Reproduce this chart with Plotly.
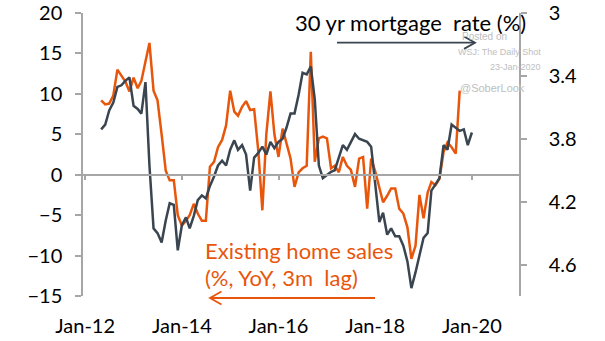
import plotly.graph_objects as go
import pandas as pd

# ---------------- data ----------------
home_sales_start = "2012-05-01"   # monthly, existing home sales (%, YoY, 3m lag)
home_sales = [
    9.2, 8.7, 8.8, 9.8, 13.0, 12.3, 11.5, 10.3, 12.0, 10.7, 11.6, 14.0, 16.3, 10.4, 9.2, 5.0,
    0.5, -0.7, -0.7, -5.0, -6.3, -5.7, -5.0, -3.6, -4.8, -5.7, -5.7, 1.0, 1.6, 3.4, 4.3, 6.1,
    10.4, 7.8, 7.3, 8.4, 9.1, 8.0, 8.1, 3.0, -4.4, 5.0, 10.3, 5.0, 2.2, 5.7, 3.9, 2.0,
    -1.5, 0.3, 0.8, 1.1, 15.2, 1.6, 4.5, 4.7, 4.5, 0.8, 1.1, 0.3, 2.2, 1.1, 0.6, -1.5,
    2.0, 2.2, -4.2, 2.0, 0.4, -1.6, -3.4, -2.6, -1.7, -1.7, -4.2, -4.8, -6.5, -10.4, -8.8, -2.5,
    -5.4, -2.2, -0.9, -1.3, -0.5, 2.8, 4.0, 3.4, 2.6, 10.4,
]
mortgage_start = "2012-05-01"     # monthly, 30 yr mortgage rate (%)
mortgage_rate = [
    3.74, 3.71, 3.62, 3.57, 3.47, 3.46, 3.43, 3.41, 3.59, 3.61, 3.64, 3.44, 3.97, 4.37, 4.40, 4.46,
    4.32, 4.21, 4.22, 4.51, 4.35, 4.30, 4.37, 4.29, 4.19, 4.16, 4.18, 4.10, 4.04, 3.97, 3.94, 3.97,
    3.87, 3.81, 3.87, 3.84, 3.90, 4.13, 3.92, 3.89, 3.85, 3.90, 3.82, 3.86, 3.82, 3.80, 3.73, 3.64,
    3.64, 3.52, 3.38, 3.39, 3.34, 3.55, 3.97, 4.05, 4.03, 4.01, 4.00, 3.92, 3.84, 3.87, 3.82, 3.77,
    3.80, 3.81, 3.82, 3.85, 4.08, 4.33, 4.27, 4.41, 4.37, 4.42, 4.42, 4.48, 4.58, 4.75, 4.65, 4.54,
    4.43, 4.40, 4.13, 4.09, 4.05, 3.84, 3.87, 3.71, 3.73, 3.75, 3.74, 3.84, 3.76,
]
x_tick_dates = ["2012-01-01", "2014-01-01", "2016-01-01", "2018-01-01", "2020-01-01"]
x_tick_labels = ["Jan-12", "Jan-14", "Jan-16", "Jan-18", "Jan-20"]
left_ticks = [-15, -10, -5, 0, 5, 10, 15, 20]
right_ticks = [3.0, 3.4, 3.8, 4.2, 4.6]
right_tick_labels = ["3", "3.4", "3.8", "4.2", "4.6"]

sales_dates = pd.date_range(home_sales_start, periods=len(home_sales), freq="MS")
rate_dates = pd.date_range(mortgage_start, periods=len(mortgage_rate), freq="MS")

# ---------------- style ----------------
W, H = 605, 341
L, R, T, B = 83, 86, 13, 45
ORANGE = "#E8560C"
GREY = "#3A4550"
AXIS = "#A6A6A6"
WM = "#BEBEBE"
FONT = "Lato"
TICK_SIZE = 20
TITLE_SIZE = 22
LABEL_SIZE = 22
X_RANGE = ["2011-12-16", "2020-12-22"]


def xp(px):
    return (px - L) / (W - L - R)


def yp(py):
    return (H - B - py) / (H - T - B)


fig = go.Figure()
fig.add_trace(go.Scatter(x=sales_dates, y=home_sales, mode="lines",
                         line=dict(color=ORANGE, width=2.5), yaxis="y",
                         showlegend=False, hoverinfo="skip"))
fig.add_trace(go.Scatter(x=rate_dates, y=mortgage_rate, mode="lines",
                         line=dict(color=GREY, width=2.5), yaxis="y2",
                         showlegend=False, hoverinfo="skip"))
# carrier trace for the zero-line x axis
fig.add_trace(go.Scatter(x=[x_tick_dates[0]], y=[None], xaxis="x2", yaxis="y",
                         showlegend=False, hoverinfo="skip"))

zero_pos = (0 - left_ticks[0]) / (left_ticks[-1] - left_ticks[0])

fig.update_layout(
    width=W, height=H, autosize=False,
    margin=dict(l=L, r=R, t=T, b=B, pad=0, autoexpand=False),
    paper_bgcolor="white", plot_bgcolor="white",
    font=dict(family=FONT, size=TICK_SIZE, color="black"),
    showlegend=False,
    xaxis=dict(range=X_RANGE, tickvals=x_tick_dates, ticktext=x_tick_labels,
               showline=False, ticks="", showgrid=False, zeroline=False,
               ticklabelstandoff=16, tickfont=dict(size=TICK_SIZE), automargin=False),
    xaxis2=dict(range=X_RANGE, overlaying="x", anchor="free", position=zero_pos,
                tickvals=x_tick_dates, showticklabels=False, showline=True,
                linecolor=AXIS, linewidth=1.5, ticks="outside", ticklen=5,
                tickcolor=AXIS, tickwidth=1.5, showgrid=False, zeroline=False,
                side="bottom", automargin=False),
    yaxis=dict(range=[left_ticks[0], left_ticks[-1]], tickvals=left_ticks,
               showline=True, linecolor=AXIS, linewidth=1.5, ticks="outside",
               ticklen=6, tickcolor=AXIS, tickwidth=1.5, showgrid=False,
               zeroline=False, ticklabelstandoff=9, tickfont=dict(size=TICK_SIZE),
               automargin=False),
    yaxis2=dict(range=[4.8, 3.0], tickvals=right_ticks, ticktext=right_tick_labels,
                overlaying="y", side="right", showline=True, linecolor=AXIS,
                linewidth=1.5, ticks="outside", ticklen=6, tickcolor=AXIS,
                tickwidth=1.5, showgrid=False, zeroline=False, ticklabelstandoff=18,
                tickfont=dict(size=TICK_SIZE), automargin=False),
)

# ---------------- annotations ----------------
ann = [
    dict(text="30 yr mortgage\u00a0 rate (%)", x=xp(293), y=yp(22), xanchor="left",
         yanchor="middle", font=dict(size=TITLE_SIZE, color="black")),
    dict(text="Existing home sales", x=xp(203), y=yp(250), xanchor="left",
         yanchor="middle", font=dict(size=LABEL_SIZE, color=ORANGE)),
    dict(text="(%, YoY, 3m\u00a0 lag)", x=xp(203), y=yp(277), xanchor="left",
         yanchor="middle", font=dict(size=LABEL_SIZE, color=ORANGE)),
    dict(text="Posted on", x=xp(460), y=yp(36), xanchor="left", yanchor="middle",
         font=dict(size=10, color=WM, family="Liberation Sans")),
    dict(text="WSJ: The Daily Shot", x=xp(543), y=yp(52), xanchor="right", yanchor="middle",
         font=dict(size=9, color=WM, family="Liberation Sans")),
    dict(text="23-Jan-2020", x=xp(543), y=yp(67), xanchor="right", yanchor="middle",
         font=dict(size=9, color=WM, family="Liberation Sans")),
    dict(text="@SoberLook", x=xp(458), y=yp(88), xanchor="left", yanchor="middle",
         font=dict(size=11, color=WM, family="Liberation Sans")),
]
for a in ann:
    fig.add_annotation(xref="paper", yref="paper", showarrow=False, **a)

# arrows
fig.add_shape(type="line", xref="paper", yref="paper", x0=xp(337), x1=xp(475),
              y0=yp(42.7), y1=yp(42.7), line=dict(color=GREY, width=1.8))
fig.add_shape(type="path", xref="paper", yref="paper",
              path=f"M {xp(464)} {yp(36.5)} L {xp(475)} {yp(42.7)} L {xp(464)} {yp(48.9)}",
              line=dict(color=GREY, width=1.8))
fig.add_shape(type="line", xref="paper", yref="paper", x0=xp(210), x1=xp(375),
              y0=yp(298), y1=yp(298), line=dict(color=ORANGE, width=1.8))
fig.add_shape(type="path", xref="paper", yref="paper",
              path=f"M {xp(221.5)} {yp(291.5)} L {xp(210)} {yp(298)} L {xp(221.5)} {yp(304.5)}",
              line=dict(color=ORANGE, width=1.8))

fig.write_html("out.html")
